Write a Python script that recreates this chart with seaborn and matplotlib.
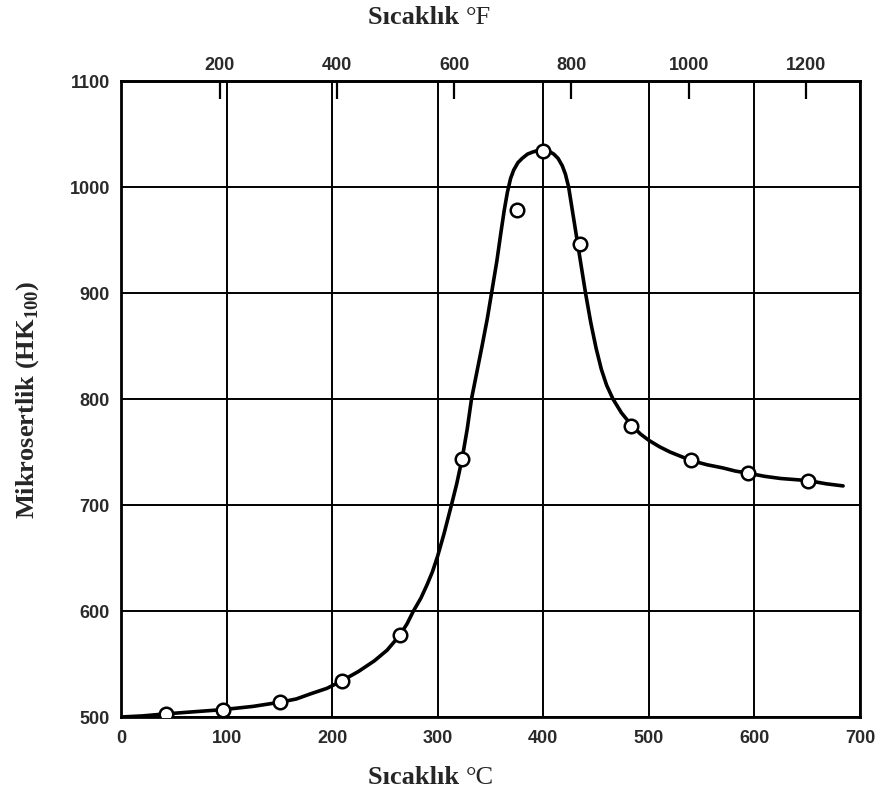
import matplotlib
matplotlib.use("Agg")
import matplotlib.pyplot as plt
import seaborn as sns
import pandas as pd

# Measured points (temperature °C, microhardness HK100)
point_c = [43, 97, 151, 209, 264, 323, 375, 400, 435, 483, 540, 594, 651]
point_hk = [503, 507, 514, 534, 577, 743, 978, 1034, 946, 775, 742, 730, 723]

# Smooth trend curve
curve_c = [0, 20, 43, 70, 97, 125, 151, 166, 180, 195, 209, 225, 240, 252, 264,
           271, 277, 284, 290, 295, 300, 306, 313, 318, 323, 328, 332, 337, 342,
           347, 351, 356, 360, 363, 366, 369, 372, 376, 380, 385, 390, 395, 400,
           405, 410, 414, 418, 421, 424, 428, 432, 436, 440, 445, 450, 455, 460,
           466, 474, 483, 492, 500, 510, 520, 530, 540, 555, 570, 582, 594, 610,
           625, 638, 651, 668, 684]
curve_hk = [500, 501, 503, 505, 507, 510, 514, 517, 522, 527, 534, 543, 553, 563, 577,
            588, 600, 612, 625, 637, 652, 673, 700, 720, 743, 772, 800, 825, 850,
            876, 900, 930, 958, 978, 995, 1008, 1016, 1023, 1027, 1031, 1033, 1034.5, 1035,
            1034, 1031, 1027, 1020, 1012, 1000, 975, 950, 925, 900, 872, 848, 828, 813,
            800, 787, 776, 767, 761, 755, 750, 746, 742, 738, 735, 732, 730, 727,
            725, 724, 723, 720, 718]

x_ticks_c = [0, 100, 200, 300, 400, 500, 600, 700]
y_ticks = [500, 600, 700, 800, 900, 1000, 1100]
top_ticks_f = [200, 400, 600, 800, 1000, 1200]

sns.set_style("white")
plt.rcParams['font.family'] = ['Liberation Sans Narrow', 'Liberation Sans', 'DejaVu Sans']
plt.rcParams['mathtext.fontset'] = 'custom'
plt.rcParams['mathtext.rm'] = 'Liberation Serif'
plt.rcParams['mathtext.bf'] = 'Liberation Serif:bold'

fig = plt.figure(figsize=(8.81, 8.03), dpi=100)
ax = fig.add_axes([121/881, 1 - 718/803, (860 - 121)/881, (718 - 82)/803])

curve_df = pd.DataFrame({"c": curve_c, "hk": curve_hk})
pts_df = pd.DataFrame({"c": point_c, "hk": point_hk})

sns.lineplot(data=curve_df, x="c", y="hk", sort=False, estimator=None,
             color="black", linewidth=2.6, ax=ax, zorder=3)
ax.lines[-1].set_solid_joinstyle("round")
sns.scatterplot(data=pts_df, x="c", y="hk", s=95, marker="o",
                facecolor="white", edgecolor="black", linewidth=1.8, ax=ax, zorder=4)

ax.set_xlim(0, 700)
ax.set_ylim(500, 1100)
ax.set_xticks(x_ticks_c)
ax.set_yticks(y_ticks)
ax.grid(True, color="black", linewidth=1.4)
ax.set_axisbelow(True)
for s in ax.spines.values():
    s.set_color("black")
    s.set_linewidth(2.0)

ax.tick_params(axis="x", length=0, pad=9, labelsize=13, labelcolor="#2a2a2a")
ax.tick_params(axis="y", length=5, width=1.2, pad=3, labelsize=13, labelcolor="#2a2a2a", color="black")
for lab in ax.get_xticklabels() + ax.get_yticklabels():
    lab.set_fontweight("bold")

ax.set_xlabel("")
ax.set_ylabel("")

def c2f(c):
    return c * 9.0 / 5.0 + 32.0

def f2c(f):
    return (f - 32.0) * 5.0 / 9.0

sec = ax.secondary_xaxis("top", functions=(c2f, f2c))
sec.set_xticks(top_ticks_f)
sec.tick_params(axis="x", direction="in", length=13, width=1.6, pad=6,
                labelsize=13, labelcolor="#2a2a2a", color="black")
for lab in sec.get_xticklabels():
    lab.set_fontweight("bold")
sec.spines["top"].set_linewidth(2.0)

# Axis titles (serif, bold word + regular unit)
fig.text(0.5285, 1 - 18/803, "Sıcaklık ", ha="right", va="center",
         fontsize=19, fontweight="bold", family="Liberation Serif")
fig.text(0.5285, 1 - 18/803, "°F", ha="left", va="center",
         fontsize=19, family="Liberation Serif")
fig.text(0.5285, 1 - 778/803, "Sıcaklık ", ha="right", va="center",
         fontsize=19, fontweight="bold", family="Liberation Serif")
fig.text(0.5285, 1 - 778/803, "°C", ha="left", va="center",
         fontsize=19, family="Liberation Serif")
fig.text(28/881, 1 - 400/803, r"Mikrosertlik (HK$_{\mathbf{100}}$)", rotation=90,
         ha="center", va="center", fontsize=19, fontweight="bold", family="Liberation Serif")

fig.savefig("out.png", dpi=100, facecolor="white")
